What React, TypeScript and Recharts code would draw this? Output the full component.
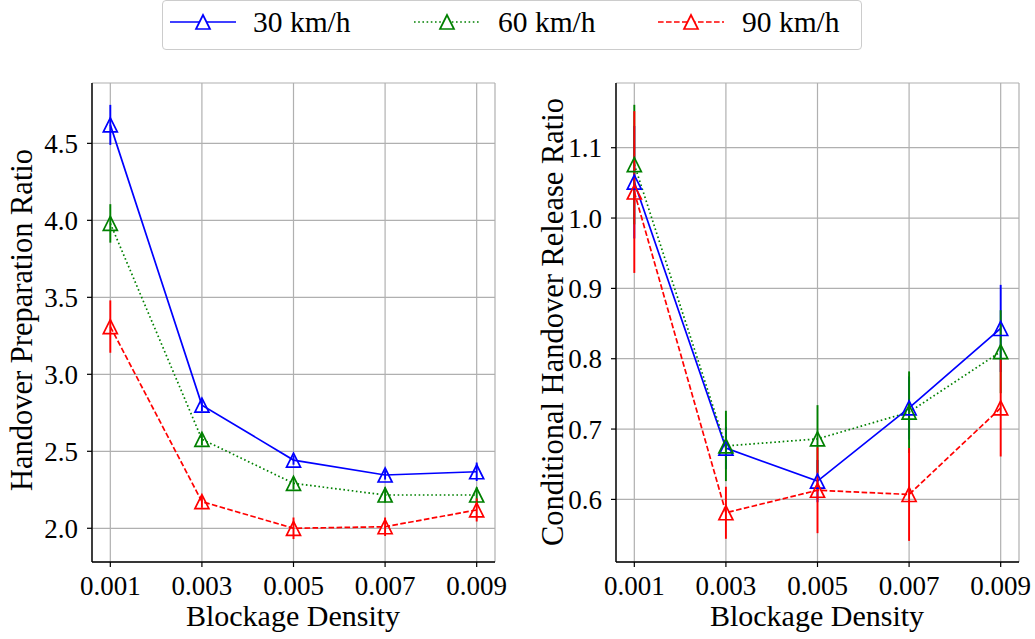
import React from "react";
import { LineChart, Line, XAxis, YAxis, CartesianGrid, ErrorBar } from "recharts";

const densities = [0.001, 0.003, 0.005, 0.007, 0.009];
const xTicks = [0.001, 0.003, 0.005, 0.007, 0.009];
const seriesNames = ["30 km/h", "60 km/h", "90 km/h"];
const seriesColors = ["#0000ff", "#008000", "#ff0000"];

// Handover Preparation Ratio
const prep30 = [4.62, 2.8, 2.443, 2.346, 2.367];
const prep30Err = [0.13, 0.04, 0.03, 0.03, 0.06];
const prep60 = [3.98, 2.578, 2.292, 2.216, 2.216];
const prep60Err = [0.125, 0.04, 0.04, 0.05, 0.05];
const prep90 = [3.31, 2.173, 2.0, 2.01, 2.119];
const prep90Err = [0.17, 0.04, 0.07, 0.06, 0.075];
const prepTicks = [2.0, 2.5, 3.0, 3.5, 4.0, 4.5];

// Conditional Handover Release Ratio
const rel30 = [1.051, 0.673, 0.626, 0.73, 0.843];
const rel30Err = [0.08, 0.03, 0.03, 0.045, 0.062];
const rel60 = [1.076, 0.676, 0.686, 0.724, 0.81];
const rel60Err = [0.085, 0.05, 0.048, 0.058, 0.059];
const rel90 = [1.037, 0.581, 0.613, 0.607, 0.73];
const rel90Err = [0.115, 0.037, 0.061, 0.066, 0.069];
const relTicks = [0.6, 0.7, 0.8, 0.9, 1.0, 1.1];

const FONT = "Liberation Serif";

const prepData = densities.map((x, i) => ({
  x,
  s0: prep30[i], e0: prep30Err[i],
  s1: prep60[i], e1: prep60Err[i],
  s2: prep90[i], e2: prep90Err[i],
}));
const relData = densities.map((x, i) => ({
  x,
  s0: rel30[i], e0: rel30Err[i],
  s1: rel60[i], e1: rel60Err[i],
  s2: rel90[i], e2: rel90Err[i],
}));

const dashes = [undefined, "1.6 2.6", "5.6 2.4"];

const triangleDot = (color: string) => (props: any) => {
  const { cx, cy, index } = props;
  if (cx == null || cy == null) return <g key={`d${index}`} />;
  const s = 7;
  return (
    <polygon
      key={`d${index}`}
      points={`${cx},${cy - s} ${cx - s},${cy + s} ${cx + s},${cy + s}`}
      fill="none"
      stroke={color}
      strokeWidth={1.7}
    />
  );
};

const tickStyle = { fill: "#000", fontSize: 27, fontFamily: FONT };

function Panel(props: {
  data: any[];
  width: number;
  yAxisWidth: number;
  marginRight: number;
  yDomain: [number, number];
  yTicks: number[];
  yFmt: (v: number) => string;
}) {
  const { data, width, yAxisWidth, marginRight, yDomain, yTicks, yFmt } = props;
  return (
    <LineChart
      width={width}
      height={639}
      data={data}
      margin={{ top: 83, right: marginRight, left: 0, bottom: 0 }}
      style={{ fontFamily: FONT }}
    >
      <CartesianGrid stroke="#b0b0b0" strokeWidth={1.2} />
      <XAxis
        dataKey="x"
        type="number"
        domain={[0.0006, 0.0094]}
        ticks={xTicks}
        allowDataOverflow
        height={77}
        tickFormatter={(v: number) => v.toFixed(3)}
        tick={tickStyle}
        tickSize={5}
        tickMargin={9}
        axisLine={{ stroke: "#000", strokeWidth: 1.4 }}
        tickLine={{ stroke: "#000", strokeWidth: 1.2 }}
      />
      <XAxis
        xAxisId="top"
        orientation="top"
        dataKey="x"
        type="number"
        domain={[0.0006, 0.0094]}
        allowDataOverflow
        height={0}
        tick={false}
        tickLine={false}
        axisLine={{ stroke: "#000", strokeWidth: 1.4 }}
      />
      <YAxis
        type="number"
        domain={yDomain}
        ticks={yTicks}
        allowDataOverflow
        width={yAxisWidth}
        tickFormatter={yFmt}
        tick={tickStyle}
        tickSize={5}
        tickMargin={9}
        axisLine={{ stroke: "#000", strokeWidth: 1.4 }}
        tickLine={{ stroke: "#000", strokeWidth: 1.2 }}
      />
      <YAxis
        yAxisId="right"
        orientation="right"
        type="number"
        domain={yDomain}
        allowDataOverflow
        width={0}
        tick={false}
        tickLine={false}
        axisLine={{ stroke: "#000", strokeWidth: 1.4 }}
      />
      {[0, 1, 2].map((k) => (
        <Line
          key={k}
          dataKey={`s${k}`}
          name={seriesNames[k]}
          stroke={seriesColors[k]}
          strokeWidth={1.7}
          strokeDasharray={dashes[k]}
          dot={triangleDot(seriesColors[k])}
          activeDot={false}
          isAnimationActive={false}
        >
          <ErrorBar
            dataKey={`e${k}`}
            direction="y"
            width={0}
            stroke={seriesColors[k]}
            strokeWidth={1.9}
            isAnimationActive={false}
          />
        </Line>
      ))}
    </LineChart>
  );
}

function LegendSample({ k }: { k: number }) {
  const c = seriesColors[k];
  return (
    <svg width={66} height={20} style={{ display: "block" }}>
      <line x1={0} y1={10} x2={66} y2={10} stroke={c} strokeWidth={1.7} strokeDasharray={dashes[k]} />
      <polygon points={`33,3 26,17 40,17`} fill="#fff" stroke={c} strokeWidth={1.7} />
    </svg>
  );
}

export default function App() {
  const legendX = [170, 414, 658];
  const legendTextX = [253, 498, 742];
  return (
    <div style={{ position: "absolute", left: 0, top: 0, width: 1035, height: 639, background: "#fff", fontFamily: FONT }}>
      <div style={{ position: "absolute", left: 0, top: 0 }}>
        <Panel
          data={prepData}
          width={520}
          yAxisWidth={92}
          marginRight={25}
          yDomain={[1.781, 4.892]}
          yTicks={prepTicks}
          yFmt={(v) => v.toFixed(1)}
        />
      </div>
      <div style={{ position: "absolute", left: 520, top: 0 }}>
        <Panel
          data={relData}
          width={515}
          yAxisWidth={96}
          marginRight={16}
          yDomain={[0.511, 1.192]}
          yTicks={relTicks}
          yFmt={(v) => v.toFixed(1)}
        />
      </div>
      <svg width={1035} height={639} style={{ position: "absolute", left: 0, top: 0, pointerEvents: "none", fontFamily: FONT }}>
        <text x={32} y={320} transform="rotate(-90 32 320)" textAnchor="middle" fontSize={30.5} fontFamily={FONT} fill="#000">
          Handover Preparation Ratio
        </text>
        <text x={563} y={322} transform="rotate(-90 563 322)" textAnchor="middle" fontSize={30.5} fontFamily={FONT} fill="#000">
          Conditional Handover Release Ratio
        </text>
        <text x={293} y={626} textAnchor="middle" fontSize={30} fontFamily={FONT} fill="#000">
          Blockage Density
        </text>
        <text x={817} y={626} textAnchor="middle" fontSize={30} fontFamily={FONT} fill="#000">
          Blockage Density
        </text>
      </svg>
      <div
        style={{
          position: "absolute",
          left: 162,
          top: 0,
          width: 698,
          height: 48,
          border: "1px solid #cccccc",
          borderRadius: 4,
          background: "#fff",
        }}
      />
      {[0, 1, 2].map((k) => (
        <React.Fragment key={k}>
          <div style={{ position: "absolute", left: legendX[k], top: 12 }}>
            <LegendSample k={k} />
          </div>
          <div style={{ position: "absolute", left: legendTextX[k], top: 4, fontSize: 29.5, lineHeight: "36px", color: "#000", whiteSpace: "nowrap", fontFamily: FONT }}>
            {seriesNames[k]}
          </div>
        </React.Fragment>
      ))}
    </div>
  );
}
